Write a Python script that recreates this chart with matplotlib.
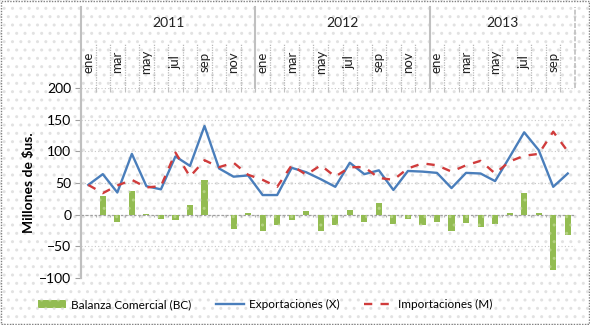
import numpy as np
import matplotlib
matplotlib.use("Agg")
import matplotlib.pyplot as plt
from matplotlib.patches import Rectangle

plt.rcParams['font.family'] = ['Lato', 'DejaVu Sans']

# monthly data, ene 2011 .. oct 2013
years = ["2011", "2012", "2013"]
months_per_year = [12, 12, 10]
month_names = ["ene", "feb", "mar", "abr", "may", "jun",
               "jul", "ago", "sep", "oct", "nov", "dic"]

exportaciones = [47, 64, 35, 96, 45, 40, 92, 77, 140, 73, 60, 62,
                 31, 31, 74, 67, 56, 44, 82, 64, 70, 39, 69, 68,
                 66, 42, 66, 65, 53, 91, 130, 102, 44, 65]
importaciones = [47, 34, 46, 55, 43, 45, 98, 60, 86, 75, 82, 63,
                 55, 44, 78, 63, 78, 60, 75, 75, 58, 55, 73, 81,
                 78, 68, 78, 85, 65, 84, 93, 96, 131, 100]
balanza = [-1, 29, -12, 38, 1, -7, -8, 16, 54, -1, -23, 3,
           -26, -16, -9, 6, -26, -16, 8, -12, 18, -15, -7, -16,
           -12, -26, -13, -20, -15, 3, 35, 2, -88, -32]

n = len(exportaciones)
x = np.arange(n)

fig = plt.figure(figsize=(5.9, 3.25), dpi=100)
# dotted background + dotted frame like the excel chart area
fig.patches.append(Rectangle((0, 0), 1, 1, transform=fig.transFigure,
                             facecolor='white', edgecolor='#e2e2e2',
                             hatch='..', lw=0, zorder=-10))
fig.patches.append(Rectangle((0.002, 0.003), 0.996, 0.994, transform=fig.transFigure,
                             fill=False, edgecolor='#808080', ls=(0, (1, 1)),
                             lw=1, zorder=10))

ax = fig.add_axes([0.1373, 0.1446, 0.8373, 0.5846])
ax.set_facecolor('none')

bars = ax.bar(x, balanza, width=0.42, color='#93BC52', edgecolor='#B5D282',
              hatch='..', lw=0, label='Balanza Comercial (BC)', zorder=2)
l1, = ax.plot(x, exportaciones, color='#4A7EBB', lw=1.7, label='Exportaciones (X)', zorder=3)
l2, = ax.plot(x, importaciones, color='#D03C3C', lw=1.7, ls=(0, (3.5, 3.5)),
              label='Importaciones (M)', zorder=4)

ax.set_xlim(-0.5, n - 0.5)
ax.set_ylim(-100, 200)
ax.set_yticks(np.arange(-100, 201, 50))
ax.tick_params(axis='y', labelsize=10, color='#a0a0a0', length=4, pad=3)
ax.set_xticks([])
for s in ['top', 'right', 'bottom']:
    ax.spines[s].set_visible(False)
ax.spines['left'].set_color('#bfbfbf')
ax.spines['left'].set_linewidth(1.5)
ax.yaxis.grid(True, color='#c8c8c8', ls=(0, (1, 2)), lw=0.8)
ax.set_axisbelow(True)
ax.axhline(0, color='#a0a0a0', ls=(0, (2, 1.5)), lw=0.9, zorder=1)
ax.set_ylabel('Millones de $us.', fontsize=10, fontweight='bold', labelpad=3)

# month boundary ticks at zero and at top
bounds = np.arange(n + 1) - 0.5
ax.vlines(bounds[1:], -4, 0, color='#b0b0b0', lw=0.8, zorder=1)
ax.vlines(bounds[1:], 193, 200, color='#c0c0c0', lw=0.8, zorder=1)

# header with years and months
trans = ax.get_xaxis_transform()
y_top, y_mid = 1.426, 1.237
start = 0
for yr, cnt in zip(years, months_per_year):
    ax.plot([start - 0.5, start - 0.5], [0 if start == 0 else 1, y_top], transform=trans,
            color='#c0c0c0', lw=1.5, clip_on=False)
    ax.text(start - 0.5 + cnt / 2, 1.342, yr, transform=trans, ha='center', va='center',
            fontsize=10, color='#222222')
    for k in range(cnt):
        if k > 0:
            ax.plot([start + k - 0.5] * 2, [1, y_mid], transform=trans,
                    color='#b8b8b8', lw=0.9, ls=(0, (1, 1)), clip_on=False)
        if k % 2 == 0:
            ax.text(start + k, 1.137, month_names[k], transform=trans, rotation=90,
                    ha='center', va='center', fontsize=9.5, color='#222222')
    start += cnt
ax.plot([n - 0.5, n - 0.5], [1, y_top], transform=trans, color='#c0c0c0',
        lw=1.2, ls=(0, (3, 1)), clip_on=False)

fig.legend(handles=[bars, l1, l2], loc='center', bbox_to_anchor=(0.449, 0.062), ncol=3,
           frameon=False, fontsize=8.5, handlelength=2.4, columnspacing=2.1,
           handletextpad=0.4)

fig.savefig('out.png', dpi=100)
